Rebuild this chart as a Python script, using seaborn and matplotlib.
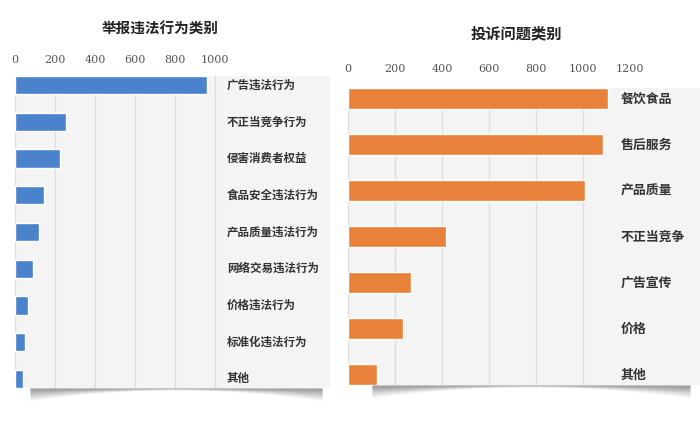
import matplotlib
matplotlib.use("Agg")
import matplotlib.pyplot as plt
import matplotlib.transforms as mtransforms
import numpy as np
import pandas as pd
import seaborn as sns

# ---- data ----
left_title = "举报违法行为类别"
left_categories = ["广告违法行为", "不正当竞争行为", "侵害消费者权益", "食品安全违法行为",
                   "产品质量违法行为", "网络交易违法行为", "价格违法行为", "标准化违法行为", "其他"]
left_values = [960, 255, 225, 145, 120, 90, 65, 50, 40]
left_ticks = [0, 200, 400, 600, 800, 1000]

right_title = "投诉问题类别"
right_categories = ["餐饮食品", "售后服务", "产品质量", "不正当竞争", "广告宣传", "价格", "其他"]
right_values = [1105, 1085, 1010, 415, 268, 232, 122]
right_ticks = [0, 200, 400, 600, 800, 1000, 1200]

sns.set_theme(style="white")
plt.rcParams['font.family'] = ['Noto Sans CJK SC', 'DejaVu Sans']

W, H = 700, 429
fig = plt.figure(figsize=(7.0, 4.29), dpi=100)
fig.patch.set_facecolor("white")

def px_rect(x0, y0, x1, y1):
    return [x0 / W, 1 - y1 / H, (x1 - x0) / W, (y1 - y0) / H]

# shadow overlay (drawn first, behind)
sh = fig.add_axes([0, 0, 1, 1], zorder=0)
sh.set_xlim(0, W); sh.set_ylim(H, 0); sh.axis("off")
def shadow(x0, x1, ytop):
    xs = np.linspace(x0, x1, 200)
    t = (xs - (x0 + x1) / 2) / ((x1 - x0) / 2)
    depth = 2 + 11 * t ** 2
    for k, a in zip(np.linspace(1, 0.2, 8), np.linspace(0.05, 0.18, 8)):
        sh.fill_between(xs, ytop, ytop + depth * k, color="#6f6f6f", alpha=a, lw=0)
shadow(30, 322, 388)
shadow(372, 690, 385)

def panel(rect, cats, vals, ticks, xmax, color, title, title_xy, title_size,
          label_x_px, x0_px, label_size, bar_w, tick_pad):
    ax = fig.add_axes(rect, zorder=1)
    df = pd.DataFrame({"cat": cats, "val": vals})
    sns.barplot(data=df, x="val", y="cat", color=color, width=bar_w,
                saturation=1, ax=ax, zorder=3)
    ax.set_facecolor("#f4f4f4")
    n = len(cats)
    ax.set_ylim(n - 1 + bar_w / 2, -bar_w / 2)
    ax.set_xlim(0, xmax)
    ax.set_xticks(ticks)
    ax.xaxis.tick_top()
    ax.tick_params(axis="x", length=0, pad=tick_pad, labelsize=8, labelcolor="#555555")
    for lab in ax.get_xticklabels():
        lab.set_fontfamily(["DejaVu Serif"])
    ax.set_yticks([])
    ax.set_xlabel(""); ax.set_ylabel("")
    ax.grid(axis="x", color="#dcdcdc", lw=1, zorder=0)
    ax.grid(axis="y", visible=False)
    for s in ax.spines.values():
        s.set_visible(False)
    trans = mtransforms.blended_transform_factory(ax.transAxes, ax.transData)
    ax_w_px = rect[2] * W
    lx = (label_x_px - x0_px) / ax_w_px
    for i, c in enumerate(cats):
        ax.text(lx, i, c, transform=trans, ha="left", va="center",
                fontsize=label_size, color="#333333", fontweight="bold")
    fig.text(title_xy[0] / W, 1 - title_xy[1] / H, title, ha="center", va="center",
             fontsize=title_size, fontweight="bold", color="#222222")
    return ax

lr = px_rect(15, 76, 330, 388)
axL = panel(lr, left_categories, left_values, left_ticks, (330 - 15) / 0.2,
            "#4a82cc", left_title, (160, 29), 10.5, 227, 15, 8.3, 0.5, 8)

rr = px_rect(348, 88, 700, 385)
axR = panel(rr, right_categories, right_values, right_ticks, (700 - 348) / 0.235,
            "#e8823a", right_title, (516, 33), 11, 621, 348, 9.3, 0.46, 10)
# no gridline at the last tick on the right panel
gl = axR.xaxis.get_gridlines()
gl[-1].set_visible(False)

fig.savefig("out.png", dpi=100, facecolor="white")
